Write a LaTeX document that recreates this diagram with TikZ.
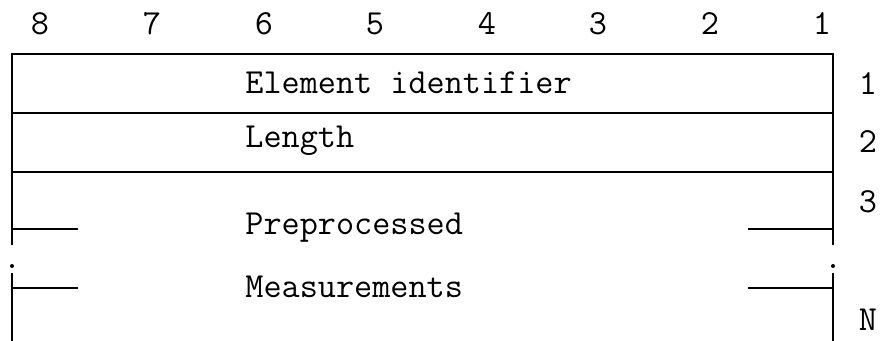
\documentclass[tikz,border=0pt]{standalone}
\usetikzlibrary{positioning}

\begin{document}
\begin{tikzpicture}[
    x=0.5pt, y=-0.5pt,
    frame/.style={line width=0.9pt, black},
    field/.style={font=\ttfamily\fontsize{17.6}{20}\selectfont, anchor=west, inner sep=0pt},
    num/.style={font=\ttfamily\fontsize{17.6}{20}\selectfont, inner sep=0pt},
    gapdot/.style={circle, fill=black, inner sep=0pt, minimum size=2pt}
]
\useasboundingbox (0,0) rectangle (881,341);

% bit numbers
\foreach \b/\x in {8/40, 7/152, 6/264, 5/375, 4/487, 3/598, 2/710, 1/822}
    \node[num] (bit\b) at (\x,24) {\b};

% octet numbers
\node[num] (oct1) at (868,84) {1};
\node[num] (oct2) at (868,142) {2};
\node[num] (oct3) at (868,202) {3};
\node[num] (octN) at (868,320) {N};

% corners of the frame
\coordinate (tl) at (12,54);
\coordinate (tr) at (833,54);
\coordinate (ml) at (12,245);
\coordinate (mr) at (833,245);
\coordinate (bl) at (12,273);
\coordinate (br) at (833,273);
\coordinate (el) at (12,341);
\coordinate (er) at (833,341);

\draw[frame] (ml) -- (tl) -- (tr) -- (mr);
\draw[frame] (bl) -- (el);
\draw[frame] (br) -- (er);
\draw[frame] (12,113) -- (833,113);
\draw[frame] (12,172) -- (833,172);

% fields
\node[field] (eid) at (245,83) {Element identifier};
\node[field] (len) at (245,141) {Length};
\node[field] (pre) at (245,228) {Preprocessed};
\node[field] (meas) at (245,287) {Measurements};

% side ticks
\draw[frame] (12,229) -- (78,229);
\draw[frame] (12,288) -- (78,288);
\draw[frame] (748,229) -- (833,229);
\draw[frame] (748,288) -- (833,288);

\node[gapdot] (dotl) at (12,266) {};
\node[gapdot] (dotr) at (833,266) {};

\end{tikzpicture}
\end{document}
